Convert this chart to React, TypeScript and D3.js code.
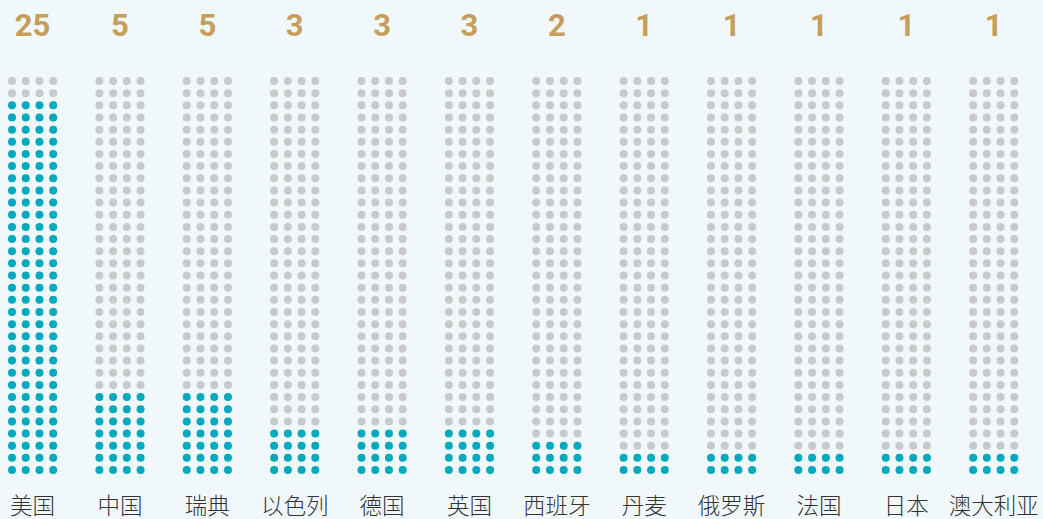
import React from "react";
import * as d3 from "d3";

const countries = ["美国", "中国", "瑞典", "以色列", "德国", "英国", "西班牙", "丹麦", "俄罗斯", "法国", "日本", "澳大利亚"];
const values = [25, 5, 5, 3, 3, 3, 2, 1, 1, 1, 1, 1];
const filledDots = [124, 28, 28, 16, 16, 16, 12, 8, 8, 8, 8, 8];
const totalRows = 33;
const dotsPerRow = 4;

const W = 1043;
const H = 519;

export default function App() {
  const x = d3
    .scalePoint<string>()
    .domain(countries)
    .range([32.6, 993.7]);
  const dx = d3
    .scaleLinear()
    .domain([0, dotsPerRow - 1])
    .range([-20.6, 20.6]);
  const y = d3
    .scaleLinear()
    .domain([0, totalRows - 1])
    .range([470, 81]);

  const dots: { key: string; cx: number; cy: number; on: boolean }[] = [];
  countries.forEach((c, ci) => {
    for (let r = 0; r < totalRows; r++) {
      for (let k = 0; k < dotsPerRow; k++) {
        const idx = r * dotsPerRow + k;
        dots.push({
          key: `${c}-${r}-${k}`,
          cx: (x(c) as number) + dx(k),
          cy: y(r),
          on: idx < filledDots[ci],
        });
      }
    }
  });

  return (
    <div style={{ position: "fixed", left: 0, top: 0, width: W, height: H }}>
      <svg width={W} height={H} style={{ display: "block" }}>
        <rect x={0} y={0} width={W} height={H} fill="#F1F8FB" />
        {dots.map((d) => (
          <circle key={d.key} cx={d.cx} cy={d.cy} r={4} fill={d.on ? "#00A9BD" : "#C9C9C9"} />
        ))}
        {countries.map((c, i) => (
          <text
            key={"v" + c}
            x={x(c) as number}
            y={36}
            textAnchor="middle"
            fontFamily="Roboto, 'DejaVu Sans', sans-serif"
            fontWeight={700}
            fontSize={31}
            fill="#C39F5B"
          >
            {values[i]}
          </text>
        ))}
        {countries.map((c) => (
          <text
            key={"l" + c}
            x={x(c) as number}
            y={514}
            textAnchor="middle"
            fontFamily="'Noto Sans CJK SC', sans-serif"
            fontWeight={300}
            fontSize={22.5}
            fill="#333333"
          >
            {c}
          </text>
        ))}
      </svg>
    </div>
  );
}
